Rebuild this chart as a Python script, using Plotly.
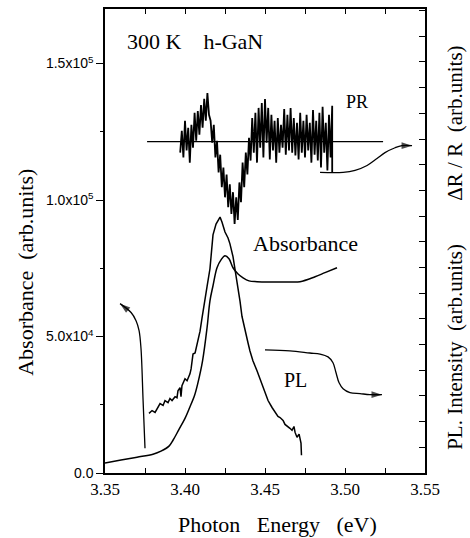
import plotly.graph_objects as go

# ---------------- data ----------------
# Absorbance (left axis, counts)
ABS_E = [3.35, 3.36, 3.37, 3.38, 3.385, 3.39, 3.3925, 3.396, 3.40, 3.403, 3.406, 3.408,
         3.411, 3.4138, 3.4156, 3.4175, 3.42, 3.4225, 3.425, 3.4275, 3.43, 3.433, 3.4363,
         3.44, 3.445, 3.455, 3.465, 3.4719, 3.4813, 3.4875, 3.495]
ABS_Y = [3700, 4750, 5800, 6900, 8000, 9850, 12000, 15700, 20000, 24100, 28500, 32850,
         41200, 53300, 63100, 68600, 75200, 78100, 79600, 78500, 75200, 73000, 71500,
         70400, 70100, 70000, 70000, 70100, 71900, 73400, 75200]

# PL intensity (right axis, arb. units)
PL_E = [3.3775, 3.3794, 3.3813, 3.3831, 3.3844, 3.3863, 3.3875, 3.3894, 3.3906, 3.3919,
        3.3938, 3.395, 3.3956, 3.3969, 3.3975, 3.3981, 3.40, 3.4013, 3.4031, 3.4038,
        3.405, 3.4063, 3.4081, 3.4094, 3.4106, 3.4125, 3.4138, 3.4156, 3.4175, 3.4194,
        3.4206, 3.4219, 3.4231, 3.425, 3.4269, 3.4281, 3.43, 3.4313, 3.4331, 3.4344,
        3.4356, 3.4375, 3.4394, 3.4406, 3.4425, 3.445, 3.4469, 3.4488, 3.45, 3.4519,
        3.4544, 3.4563, 3.4581, 3.4594, 3.4613, 3.4625, 3.4644, 3.4656, 3.4669, 3.4681,
        3.4688, 3.47, 3.4713, 3.4719, 3.4725, 3.4728]
PL_Y = [2.32, 2.43, 2.36, 2.59, 2.70, 2.63, 2.82, 2.74, 2.90, 2.82,
        2.97, 2.93, 3.20, 3.32, 2.97, 3.40, 3.67, 3.59, 3.86, 4.05,
        4.63, 4.67, 5.14, 5.52, 6.02, 6.68, 7.26, 7.95, 9.27, 9.69,
        9.85, 9.96, 9.77, 9.38, 9.15, 8.92, 8.42, 7.95, 7.26, 6.68,
        6.10, 5.52, 5.06, 4.75, 4.36, 3.98, 3.67, 3.36, 3.20, 2.82,
        2.55, 2.36, 2.20, 2.16, 2.05, 1.89, 1.81, 1.74, 1.66, 1.81,
        1.58, 1.39, 1.51, 1.27, 1.16, 0.69]

# Photoreflectance (right axis, arb. units)
PR_E = [3.397, 3.398, 3.399, 3.400, 3.401, 3.402, 3.403, 3.404, 3.405, 3.406,
        3.407, 3.408, 3.409, 3.410, 3.411, 3.412, 3.413, 3.414, 3.415, 3.416,
        3.417, 3.418, 3.419, 3.420, 3.421, 3.422, 3.423, 3.424, 3.425, 3.426,
        3.427, 3.428, 3.429, 3.430, 3.431, 3.432, 3.433, 3.434, 3.435, 3.436,
        3.437, 3.438, 3.439, 3.440, 3.441, 3.442, 3.443, 3.444, 3.445, 3.446,
        3.447, 3.448, 3.449, 3.450, 3.451, 3.452, 3.453, 3.454, 3.455, 3.456,
        3.457, 3.458, 3.459, 3.460, 3.461, 3.462, 3.463, 3.464, 3.465, 3.466,
        3.467, 3.468, 3.469, 3.470, 3.471, 3.472, 3.473, 3.474, 3.475, 3.476,
        3.477, 3.478, 3.479, 3.480, 3.481, 3.482, 3.483, 3.484, 3.485, 3.486,
        3.487, 3.488, 3.489, 3.490, 3.491, 3.492, 3.492]
PR_Y = [12.47, 13.32, 12.28, 13.71, 12.55, 13.44, 12.08, 13.55, 12.66, 14.02,
        12.93, 14.09, 13.17, 14.32, 13.44, 14.56, 13.71, 14.79, 13.94, 13.71,
        12.86, 13.55, 12.28, 12.93, 11.70, 12.39, 11.12, 11.89, 10.73, 11.62,
        10.35, 11.24, 10.08, 10.93, 9.69, 10.73, 9.85, 11.31, 10.54, 12.08,
        11.12, 12.47, 11.62, 13.05, 12.16, 13.82, 12.47, 14.02, 12.08, 14.21,
        12.66, 14.40, 12.28, 14.56, 12.86, 14.21, 12.20, 13.94, 12.55, 13.71,
        12.08, 13.82, 12.47, 13.55, 12.66, 14.17, 12.39, 13.94, 12.55, 14.21,
        12.47, 13.82, 12.36, 13.63, 12.20, 14.02, 12.47, 13.71, 12.28, 13.94,
        12.55, 13.63, 12.08, 14.13, 12.39, 13.71, 12.16, 14.02, 11.89, 14.25,
        12.47, 13.63, 11.78, 13.94, 12.28, 14.29, 11.70]
PR_BASE_E = [3.3763, 3.5238]
PR_BASE_Y = [12.90, 12.90]

# pointer arrows
ARR_ABS_E = [3.375, 3.3738, 3.3725, 3.3713, 3.3694, 3.3663, 3.3594]
ARR_ABS_Y = [9100, 26600, 45600, 52200, 55800, 58800, 62050]
ARR_PL_E = [3.45, 3.4656, 3.478, 3.4844, 3.4894, 3.4925, 3.4944, 3.4963, 3.4988,
            3.5031, 3.5094, 3.5156, 3.5231]
ARR_PL_Y = [4.79, 4.75, 4.67, 4.63, 4.52, 4.29, 3.90, 3.51, 3.28, 3.13, 3.09, 3.05, 3.05]
ARR_PR_E = [3.4844, 3.4988, 3.5063, 3.5138, 3.52, 3.525, 3.5313, 3.5356, 3.5419]
ARR_PR_Y = [11.70, 11.70, 11.78, 11.97, 12.24, 12.47, 12.66, 12.74, 12.74]

X_TICKS = [3.35, 3.40, 3.45, 3.50, 3.55]
X_TICKTEXT = ["3.35", "3.40", "3.45", "3.50", "3.55"]
Y_TICKVALS = [0, 50000, 100000, 150000]
Y_TICKTEXT = ["0.0", "5.0x10<sup>4</sup>", "1.0x10<sup>5</sup>", "1.5x10<sup>5</sup>"]

SERIF = "Liberation Serif, Times New Roman, serif"
SANS = "Liberation Sans, Arial, sans-serif"
BLK = "black"
NB = "\u00a0"

fig = go.Figure()

fig.add_trace(go.Scatter(x=ABS_E, y=ABS_Y, mode="lines", line=dict(color=BLK, width=1.5),
                         line_shape="spline", name="Absorbance", showlegend=False))
fig.add_trace(go.Scatter(x=PL_E, y=PL_Y, yaxis="y2", mode="lines",
                         line=dict(color=BLK, width=1.5), name="PL", showlegend=False))
fig.add_trace(go.Scatter(x=PR_BASE_E, y=PR_BASE_Y, yaxis="y2", mode="lines",
                         line=dict(color=BLK, width=1.2), showlegend=False))
fig.add_trace(go.Scatter(x=PR_E, y=PR_Y, yaxis="y2", mode="lines",
                         line=dict(color=BLK, width=1.8), name="PR", showlegend=False))


def arrow_trace(xs, ys, axis):
    sizes = [0] * (len(xs) - 1) + [11]
    return go.Scatter(x=xs, y=ys, yaxis=axis, mode="lines+markers", line_shape="spline",
                      line=dict(color=BLK, width=1.3),
                      marker=dict(symbol="arrow", size=sizes, angleref="previous",
                                  color=BLK, line=dict(width=0)),
                      showlegend=False)


fig.add_trace(arrow_trace(ARR_ABS_E, ARR_ABS_Y, "y"))
fig.add_trace(arrow_trace(ARR_PL_E, ARR_PL_Y, "y2"))
fig.add_trace(arrow_trace(ARR_PR_E, ARR_PR_Y, "y2"))

fig.update_layout(
    width=470, height=538,
    margin=dict(l=105, r=45, t=7, b=65),
    paper_bgcolor="white", plot_bgcolor="white",
    showlegend=False,
    xaxis=dict(range=[3.35, 3.55], tickvals=X_TICKS, ticktext=X_TICKTEXT,
               ticks="inside", ticklen=5, tickwidth=1.2, tickcolor=BLK,
               minor=dict(tickmode="linear", tick0=3.35, dtick=0.025, ticks="inside", ticklen=5, tickcolor=BLK),
               showline=True, linecolor=BLK, linewidth=1.5, mirror="allticks",
               showgrid=False, zeroline=False,
               tickfont=dict(family=SERIF, size=17, color=BLK)),
    yaxis=dict(range=[0, 170000], tickvals=Y_TICKVALS, ticktext=Y_TICKTEXT,
               ticks="outside", ticklen=7, tickwidth=1.2, tickcolor=BLK,
               minor=dict(tickmode="linear", tick0=0, dtick=25000, ticks="outside", ticklen=3, tickcolor=BLK),
               showline=True, linecolor=BLK, linewidth=1.5,
               showgrid=False, zeroline=False,
               tickfont=dict(family=SANS, size=14, color=BLK)),
    yaxis2=dict(range=[0, 18.06], overlaying="y", side="right", tickmode="linear", tick0=0, dtick=1,
                ticks="inside", ticklen=6, tickwidth=1.2, tickcolor=BLK,
                showticklabels=False, showline=True, linecolor=BLK, linewidth=1.5,
                showgrid=False, zeroline=False),
)

ann = [
    dict(text="300 K" + NB * 3 + " h-GaN", x=3.40625, y=158000, size=22),
    dict(text="PR", x=3.5075, y=136000, size=18),
    dict(text="Absorbance", x=3.4756, y=84000, size=22),
    dict(text="PL", x=3.46875, y=34000, size=20),
]
for a in ann:
    fig.add_annotation(text=a["text"], x=a["x"], y=a["y"], xref="x", yref="y",
                       showarrow=False, font=dict(family=SERIF, size=a["size"], color=BLK),
                       xanchor="center", yanchor="middle")

fig.add_annotation(text="Photon" + NB * 2 + " Energy" + NB * 2 + " (eV)", x=0.5375, y=-0.112,
                   xref="paper", yref="paper",
                   showarrow=False, font=dict(family=SERIF, size=22, color=BLK),
                   xanchor="center", yanchor="middle")
fig.add_annotation(text="Absorbance" + NB + " (arb.units)", x=-0.247, y=0.4335, xref="paper", yref="paper",
                   showarrow=False, textangle=-90, font=dict(family=SERIF, size=22, color=BLK),
                   xanchor="center", yanchor="middle")
fig.add_annotation(text="\u0394R / R" + NB + " (arb.units)", x=1.094, y=0.753, xref="paper", yref="paper",
                   showarrow=False, textangle=-90, font=dict(family=SERIF, size=21, color=BLK),
                   xanchor="center", yanchor="middle")
fig.add_annotation(text="PL. Intensity" + NB + " (arb.units)", x=1.094, y=0.272, xref="paper", yref="paper",
                   showarrow=False, textangle=-90, font=dict(family=SERIF, size=21, color=BLK),
                   xanchor="center", yanchor="middle")

fig.write_html("out.html", config={"displayModeBar": False},
               post_script="document.body.style.margin='0';document.body.style.overflow='hidden';")
